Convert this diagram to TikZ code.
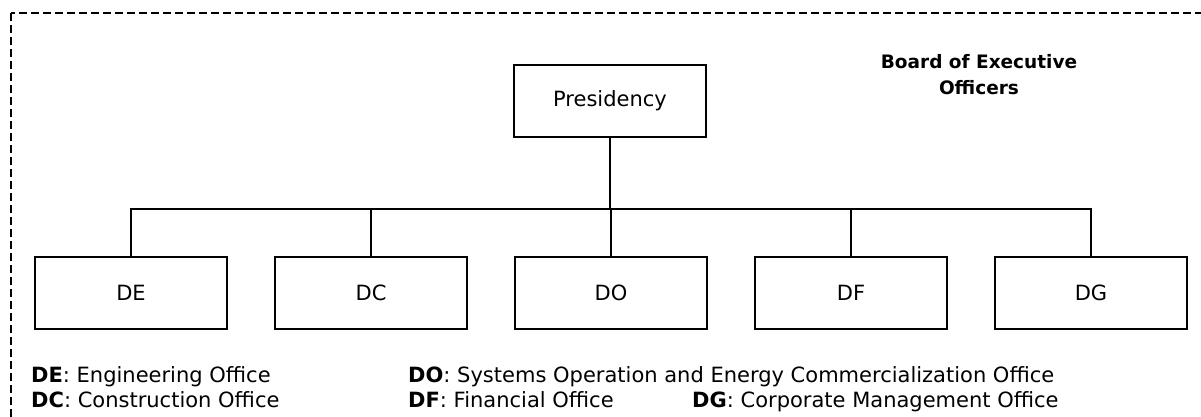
\documentclass[tikz,border=0pt]{standalone}
\usepackage{fontspec}
\setmainfont{DejaVu Sans}
\usetikzlibrary{positioning}

\begin{document}
\begin{tikzpicture}[
    x=1pt, y=-1pt,
    unit/.style={draw, line width=1.2pt, minimum width=192pt, minimum height=72pt, inner sep=0pt, font=\fontsize{21}{24}\selectfont},
    link/.style={line width=1.2pt},
    legend/.style={anchor=base west, inner sep=0pt, font=\fontsize{21}{24}\selectfont},
]
\useasboundingbox (0,0) rectangle (1201,416);
\clip (0,0) rectangle (1201,416);

% Board frame
\draw[line width=1.3pt, dash pattern=on 8pt off 4pt] (11,13) rectangle (1230,440);
\node[align=center, font=\bfseries\fontsize{18.5}{26}\selectfont] (board) at (979,75) {Board of Executive\\Officers};

% Presidency
\node[unit] (pres) at (610,101) {Presidency};

% Offices
\node[unit] (de) at (131,293) {DE};
\node[unit] (dc) at (371,293) {DC};
\node[unit] (do) at (611,293) {DO};
\node[unit] (df) at (851,293) {DF};
\node[unit] (dg) at (1091,293) {DG};

% Connections
\coordinate (bus) at (610,209);
\draw[link] (pres.south) -- (bus);
\draw[link] (de.north) |- (dg.north |- bus) -- (dg.north);
\foreach \n in {dc, do, df}
    \draw[link] (\n.north) -- (\n.north |- bus);

% Legend
\node[legend] (lde) at (31,382) {\textbf{DE}: Engineering Office};
\node[legend] (ldc) at (31,407) {\textbf{DC}: Construction Office};
\node[legend] (ldo) at (408,382) {\textbf{DO}: Systems Operation and Energy Commercialization Office};
\node[legend] (ldf) at (408,407) {\textbf{DF}: Financial Office};
\node[legend] (ldg) at (692,407) {\textbf{DG}: Corporate Management Office};

\end{tikzpicture}
\end{document}
